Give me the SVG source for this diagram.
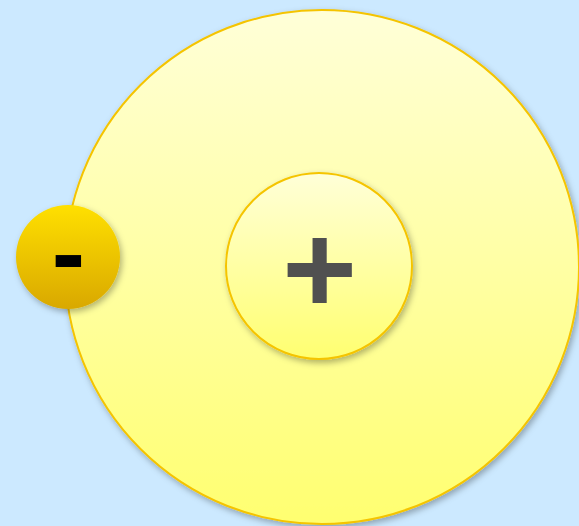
<svg xmlns="http://www.w3.org/2000/svg" width="579" height="526" viewBox="0 0 579 526">
<defs>
<linearGradient id="gY" x1="0" y1="0" x2="0" y2="1">
<stop offset="0" stop-color="#ffffd8"/>
<stop offset="1" stop-color="#ffff70"/>
</linearGradient>
<linearGradient id="gGold" x1="0" y1="0" x2="0" y2="1">
<stop offset="0" stop-color="#ffe000"/>
<stop offset="1" stop-color="#d9a800"/>
</linearGradient>
<filter id="sh" x="-20%" y="-20%" width="140%" height="140%">
<feDropShadow dx="2" dy="3" stdDeviation="3" flood-color="#000" flood-opacity="0.3"/>
</filter>
</defs>
<style>
.ring{stroke:#f5c400;stroke-width:2;filter:url(#sh)}
.lbl{font-family:"Liberation Sans",Arial,sans-serif;font-weight:bold;text-anchor:middle}
</style>
<rect width="579" height="526" fill="#cce9ff"/>
<g id="shell">
<circle class="ring" cx="322" cy="267" r="257" fill="url(#gY)"/>
</g>
<g id="nucleus">
<circle class="ring" cx="319" cy="266" r="93" fill="url(#gY)"/>
<text class="lbl" x="319.5" y="313" font-size="128" fill="#505050">+</text>
</g>
<g id="electron">
<circle cx="68" cy="257" r="52" fill="url(#gGold)" filter="url(#sh)"/>
<text class="lbl" x="68.5" y="287" font-size="100" fill="#000">-</text>
</g>
</svg>
